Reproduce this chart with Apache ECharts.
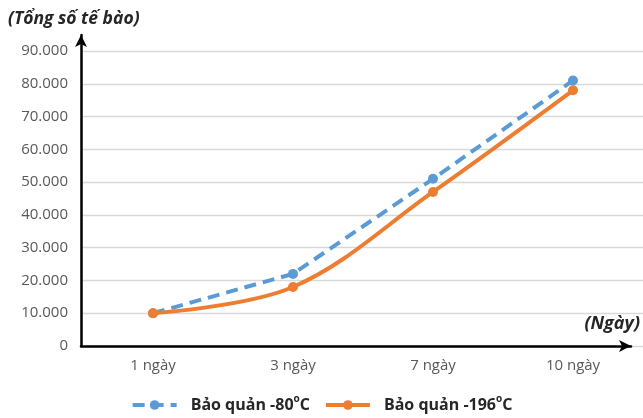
<!DOCTYPE html>
<html>
<head>
<meta charset="utf-8">
<script src="https://cdn.jsdelivr.net/npm/echarts@6/dist/echarts.min.js"></script>
<style>
  html, body { margin: 0; padding: 0; background: #fff; }
  #chart { width: 643px; height: 418px; }
</style>
</head>
<body>
<div id="chart"></div>
<script>
// dados
var $dias = ['1 ngày', '3 ngày', '7 ngày', '10 ngày'];
var $nomes = ['Bảo quản -80°C', 'Bảo quản -196°C'];
var $valores80 = [10000, 22000, 51000, 81000];
var $valores196 = [10000, 18000, 47000, 78000];
var $yMax = 90000;
var $yStep = 10000;

var $azul = '#5B9BD5';
var $laranja = '#ED7D31';
var $fonte = 'Open Sans';

function pontoMilhar(v) {
    return String(v).replace(/\B(?=(\d{3})+(?!\d))/g, '.');
}

var chartOption = {
    animation: false,
    textStyle: { fontFamily: $fonte },
    title: [{
        text: '(Tổng số tế bào)',
        left: 3,
        top: 5,
        textStyle: { fontFamily: $fonte, fontSize: 17.5, fontWeight: 'bold', fontStyle: 'italic', color: '#262626' }
    }, {
        text: '(Ngày)',
        right: -2,
        top: 310,
        textStyle: { fontFamily: $fonte, fontSize: 18, fontWeight: 'bold', fontStyle: 'italic', color: '#262626' }
    }],
    legend: {
        bottom: 0,
        left: 'center',
        itemWidth: 44,
        itemHeight: 12,
        itemGap: 14,
        data: $nomes,
        lineStyle: { width: 4 },
        formatter: function (name) {
            return '{t|' + name.replace('°C', '}{sup|o}{t|C}');
        },
        textStyle: {
            padding: [0, 0, 0, 9],
            rich: {
                t: { fontFamily: $fonte, fontSize: 16, fontWeight: 'bold', color: '#262626', lineHeight: 22 },
                sup: { fontFamily: $fonte, fontSize: 10, fontWeight: 'bold', color: '#262626', verticalAlign: 'top', lineHeight: 22, padding: [0, 0, 8, 0] }
            }
        }
    },
    grid: [
        // area dos dados (mais larga que o eixo, igual ao excel)
        { left: 83, right: -3, top: 51, bottom: 72, containLabel: false },
        // so para as setas dos eixos
        { left: 81, right: 12, top: 35, bottom: 72, containLabel: false }
    ],
    xAxis: [{
        gridIndex: 0,
        type: 'category',
        data: $dias,
        boundaryGap: true,
        axisLine: { show: false },
        axisTick: { show: false },
        splitLine: { show: false },
        axisLabel: { color: '#595959', fontSize: 15, margin: 12, fontFamily: $fonte }
    }, {
        gridIndex: 1,
        type: 'category',
        data: $dias,
        axisLine: {
            show: true,
            symbol: ['none', 'arrow'],
            symbolSize: [9, 12],
            lineStyle: { color: '#000', width: 2.5 }
        },
        axisTick: { show: false },
        axisLabel: { show: false },
        splitLine: { show: false }
    }],
    yAxis: [{
        gridIndex: 0,
        type: 'value',
        min: 0,
        max: $yMax,
        interval: $yStep,
        axisLine: { show: false },
        axisTick: { show: false },
        splitLine: { lineStyle: { color: '#D9D9D9', width: 1.3 } },
        axisLabel: {
            color: '#595959',
            fontSize: 15,
            margin: 15,
            fontFamily: $fonte,
            formatter: pontoMilhar
        }
    }, {
        gridIndex: 1,
        type: 'value',
        min: 0,
        max: 1,
        axisLine: {
            show: true,
            symbol: ['none', 'arrow'],
            symbolSize: [9, 12],
            lineStyle: { color: '#000', width: 2.5 }
        },
        axisTick: { show: false },
        axisLabel: { show: false },
        splitLine: { show: false }
    }],
    series: [{
        name: $nomes[0],
        type: 'line',
        xAxisIndex: 0,
        yAxisIndex: 0,
        data: $valores80,
        symbol: 'circle',
        symbolSize: 10,
        itemStyle: { color: $azul },
        lineStyle: { color: $azul, width: 4, type: [12, 7] },
        z: 3
    }, {
        name: $nomes[1],
        type: 'line',
        xAxisIndex: 0,
        yAxisIndex: 0,
        data: $valores196,
        smooth: 0.35,
        symbol: 'circle',
        symbolSize: 10,
        itemStyle: { color: $laranja },
        lineStyle: { color: $laranja, width: 4 },
        z: 4
    }]
};

var grafico = echarts.init(document.getElementById('chart'));
grafico.setOption(chartOption);
</script>
</body>
</html>
